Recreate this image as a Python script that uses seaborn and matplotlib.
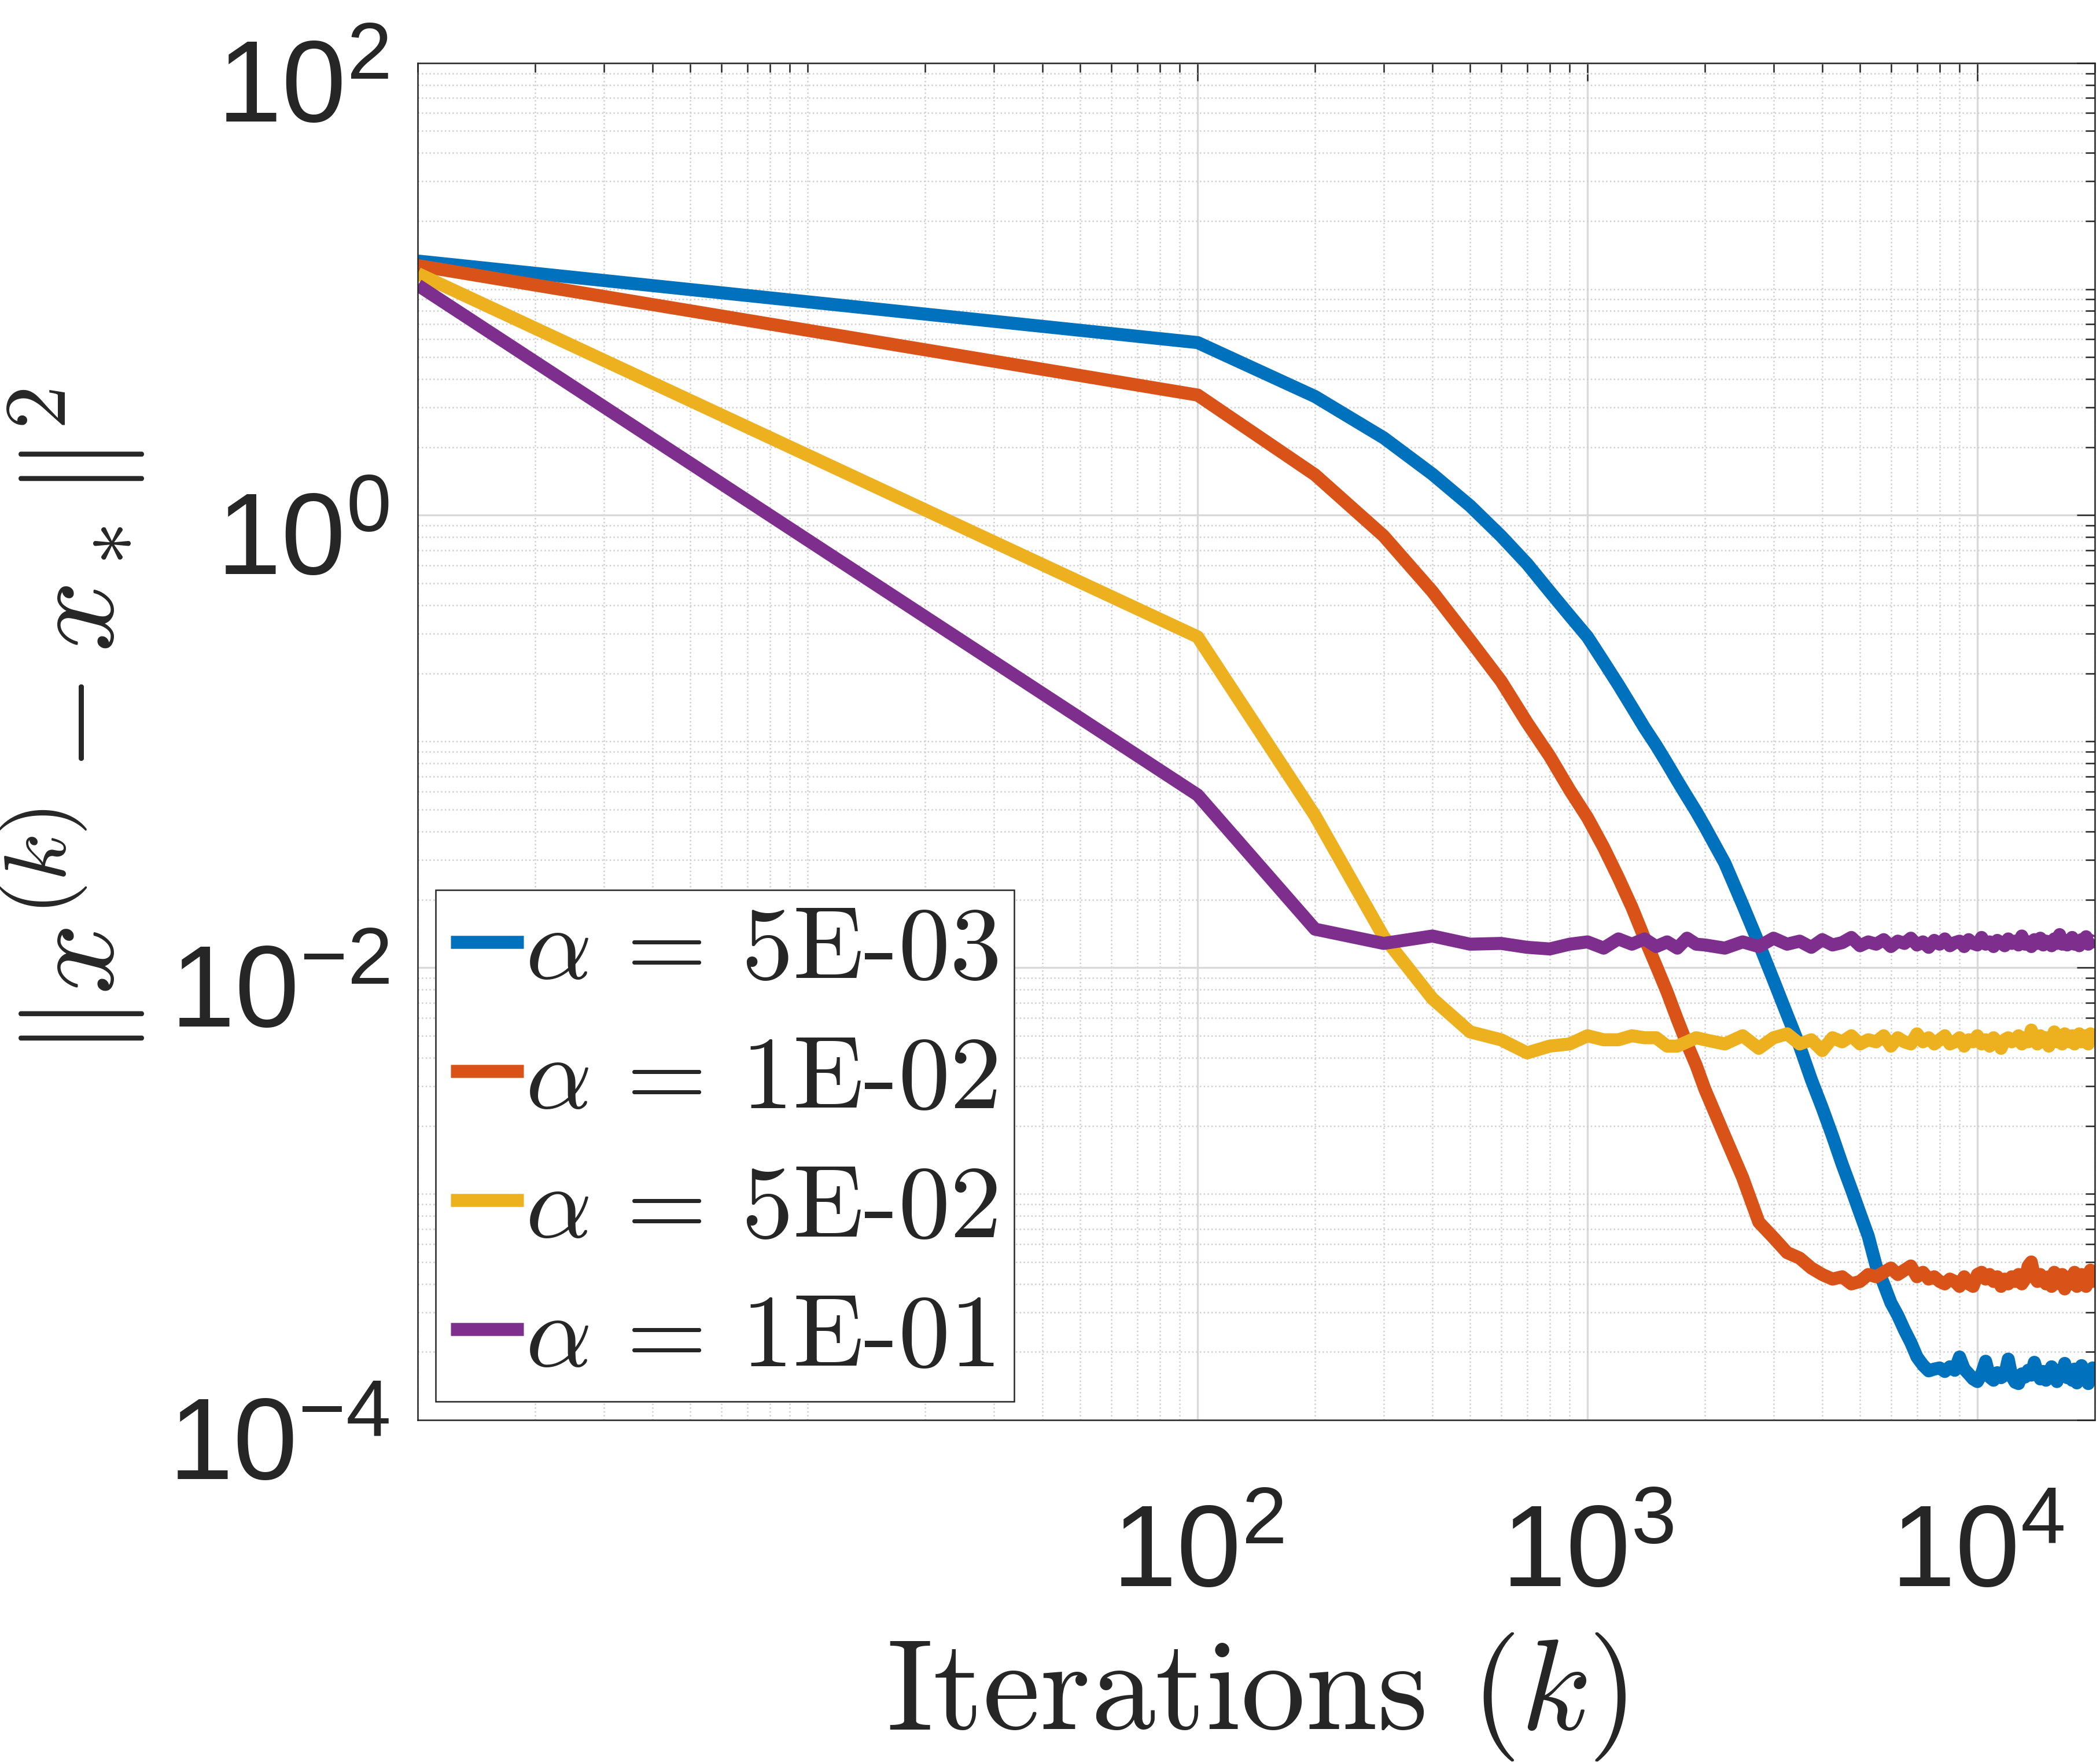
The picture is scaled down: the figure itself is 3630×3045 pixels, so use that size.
import numpy as np
import pandas as pd
import seaborn as sns
import matplotlib.pyplot as plt
from matplotlib.ticker import FixedLocator, LogLocator, NullFormatter
from matplotlib.transforms import ScaledTranslation

# iteration counts at which the error was recorded
iterations = [1] + list(range(100, 2001, 100)) + list(range(2250, 20001, 250))

labels = [r"$\alpha$ = 5E-03", r"$\alpha$ = 1E-02", r"$\alpha$ = 5E-02", r"$\alpha$ = 1E-01"]
colors = ["#0072BD", "#D95319", "#EDB120", "#7E2F8E"]

# alpha = 5E-03
err_a = [13.3, 5.8, 3.35, 2.2, 1.52, 1.1, 0.81, 0.61, 0.46, 0.36, 0.29, 0.225, 0.178,
         0.142, 0.115, 0.096, 0.080, 0.067, 0.057, 0.049, 0.042,
         0.029, 0.019, 0.0128, 0.0088, 0.0062, 0.0045, 0.0032, 0.0024, 0.0018, 0.00135,
         0.00105, 0.00082, 0.00065, 0.00048, 0.00040, 0.00033, 0.00029, 0.00025, 0.00022,
         0.00019, 0.000175, 0.000165]
tail_a = [1.68, 1.70, 1.64, 1.72, 1.66, 1.90, 1.68, 1.60, 1.52, 1.48,
          1.60, 1.82, 1.55, 1.50, 1.62, 1.54, 1.58, 1.86, 1.56, 1.47,
          1.45, 1.60, 1.55, 1.66, 1.58, 1.80, 1.62, 1.52, 1.64, 1.50,
          1.58, 1.72, 1.55, 1.48, 1.66, 1.60, 1.78, 1.54, 1.62, 1.50,
          1.68, 1.46, 1.58, 1.74, 1.52, 1.62, 1.45, 1.60, 1.70, 1.64]  # x1e-4

# alpha = 1E-02
err_b = [12.7, 3.4, 1.51, 0.81, 0.46, 0.28, 0.185, 0.121, 0.086, 0.061, 0.046, 0.034,
         0.025, 0.0185, 0.0135, 0.0102, 0.0078, 0.0059, 0.0046, 0.0037, 0.0029,
         0.0018, 0.00118, 0.00075, 0.00064, 0.00055, 0.00052, 0.00047, 0.00044, 0.00042,
         0.00043, 0.00040, 0.00041]
tail_b = [4.4, 4.3, 4.5, 4.7, 4.4, 4.6, 4.8, 4.3, 4.5, 4.2,
          4.3, 4.1, 4.0, 4.2, 4.1, 3.9, 4.3, 4.0, 3.9, 4.4,
          4.5, 4.2, 4.4, 4.1, 4.3, 3.9, 4.2, 4.0, 4.3, 4.1,
          4.4, 4.0, 4.2, 4.8, 5.0, 4.3, 4.1, 4.4, 4.2, 4.0,
          4.3, 3.9, 4.5, 4.2, 4.0, 4.4, 3.8, 4.1, 4.3, 4.0,
          4.5, 3.9, 4.2, 4.4, 4.1, 3.9, 4.3, 4.6, 4.1, 4.4]  # x1e-4

# alpha = 5E-02
err_c = [11.7, 0.29, 0.047, 0.0137, 0.0073, 0.0052, 0.0048, 0.0042, 0.0045, 0.0046, 0.0050,
         0.0048, 0.0048, 0.0050, 0.0049, 0.0049, 0.0045, 0.0045, 0.0047, 0.0049, 0.0048]
tail_c = [4.6, 5.0, 4.4, 4.9, 5.1, 4.6, 4.8, 4.3, 4.9, 4.7,
          5.0, 4.6, 4.8, 4.7, 5.0, 4.5, 4.9, 4.7, 4.6, 5.1,
          4.7, 4.9, 4.6, 4.8, 5.0, 4.6, 4.7, 4.9, 4.5, 4.8,
          4.7, 5.0, 4.6, 4.8, 4.5, 4.9, 4.7, 4.4, 4.8, 4.9,
          4.7, 4.8, 5.0, 4.6, 4.9, 4.7, 5.3, 4.8, 4.6, 5.0,
          4.7, 4.9, 4.5, 4.8, 5.2, 4.7, 4.9, 4.6, 5.1, 4.8,
          4.7, 5.0, 4.6, 4.9, 5.1, 4.7, 4.8, 5.0, 4.6, 5.1,
          4.9, 4.8]  # x1e-3

# alpha = 1E-01
err_d = [10.4, 0.058, 0.0148, 0.0128, 0.0138, 0.0127, 0.0128, 0.0123, 0.0121, 0.0127, 0.0130,
         0.0122, 0.0134, 0.0127, 0.0134, 0.0124, 0.0130, 0.0122, 0.0135, 0.0127, 0.0126]
tail_d = [1.22, 1.30, 1.24, 1.35, 1.27, 1.31, 1.23, 1.33, 1.26, 1.29,
          1.36, 1.25, 1.30, 1.27, 1.33, 1.24, 1.31, 1.28, 1.35, 1.26,
          1.30, 1.23, 1.32, 1.27, 1.34, 1.25, 1.29, 1.31, 1.24, 1.33,
          1.28, 1.26, 1.36, 1.27, 1.30, 1.24, 1.32, 1.29, 1.25, 1.34,
          1.28, 1.31, 1.26, 1.38, 1.27, 1.30, 1.24, 1.33, 1.28, 1.35,
          1.26, 1.31, 1.29, 1.25, 1.34, 1.28, 1.40, 1.27, 1.32, 1.26,
          1.30, 1.36, 1.27, 1.31, 1.25, 1.33, 1.29, 1.37, 1.27, 1.32,
          1.30, 1.33]  # x1e-2

series = [err_a + [v * 1e-4 for v in tail_a],
          err_b + [v * 1e-4 for v in tail_b],
          err_c + [v * 1e-3 for v in tail_c],
          err_d + [v * 1e-2 for v in tail_d]]

frames = []
for lab, vals in zip(labels, series):
    assert len(vals) == len(iterations), (lab, len(vals))
    frames.append(pd.DataFrame({"k": iterations, "err": vals, "alpha": lab}))
df = pd.concat(frames, ignore_index=True)

sns.set_theme(style="white")
plt.rcParams["font.family"] = ["Liberation Sans", "DejaVu Sans"]
plt.rcParams["mathtext.fontset"] = "cm"

fig = plt.figure(figsize=(12.1, 10.1533), dpi=300)
ax = fig.add_axes([0.199, 0.194, 0.7985, 0.770])

sns.lineplot(data=df, x="k", y="err", hue="alpha", hue_order=labels, palette=colors,
             estimator=None, sort=False, linewidth=5.4, ax=ax)
for ln in ax.get_lines():
    ln.set_solid_joinstyle("round")
    ln.set_solid_capstyle("butt")

ax.set_xscale("log")
ax.set_yscale("log")
ax.set_xlim(1, 20000)
ax.set_ylim(1e-4, 1e2)

ax.xaxis.set_major_locator(FixedLocator([1e2, 1e3, 1e4]))
ax.xaxis.set_minor_locator(LogLocator(base=10, subs=np.arange(1, 10), numticks=50))
ax.xaxis.set_minor_formatter(NullFormatter())
ax.yaxis.set_major_locator(FixedLocator([1e-4, 1e-2, 1e0, 1e2]))
ax.yaxis.set_minor_locator(LogLocator(base=10, subs=np.arange(1, 10), numticks=50))
ax.yaxis.set_minor_formatter(NullFormatter())

ax.set_axisbelow(True)
ax.grid(which="major", color="#d9d9d9", linewidth=0.8, linestyle="-")
ax.grid(which="minor", color="#cfcfcf", linewidth=0.6, linestyle=":")

ax.tick_params(which="both", direction="in", top=True, right=True, colors="#262626",
               labelsize=48, labelcolor="#262626")
ax.tick_params(which="major", length=7.4, width=0.6)
ax.tick_params(which="minor", length=3.8, width=0.6)
ax.tick_params(axis="x", which="major", pad=34)
ax.tick_params(axis="y", which="major", pad=12)
for sp in ax.spines.values():
    sp.set_color("#262626")
    sp.set_linewidth(0.6)

ax.set_xlabel(r"Iterations $(k)$", fontfamily="cmr10", fontsize=53.5, color="#262626")
ax.set_ylabel(r"$\|x^{(k)} - x_*\|^2$", fontsize=52, color="#262626")
ax.xaxis.set_label_coords(0.5, -0.155)
ax.yaxis.set_label_coords(-0.162, 0.514)

handles, labs = ax.get_legend_handles_labels()
leg = ax.legend(handles, labs, loc="lower left", bbox_to_anchor=(0.0104, 0.0138),
                borderaxespad=0, frameon=True, fancybox=False, edgecolor="#262626",
                prop={"family": "cmr10", "size": 43}, handlelength=0.7,
                handletextpad=0.02, labelspacing=0.35, borderpad=0.15)
leg.get_frame().set_linewidth(0.6)
leg.get_frame().set_alpha(1.0)
for h in leg.get_lines():
    h.set_solid_capstyle("butt")

# nudge the y tick labels down a little, like the reference
shift = ScaledTranslation(0, -7 / 72, fig.dpi_scale_trans)
for tick in ax.yaxis.get_major_ticks():
    tick.label1.set_transform(tick.label1.get_transform() + shift)

fig.savefig("out.png", dpi=300, facecolor="white")
